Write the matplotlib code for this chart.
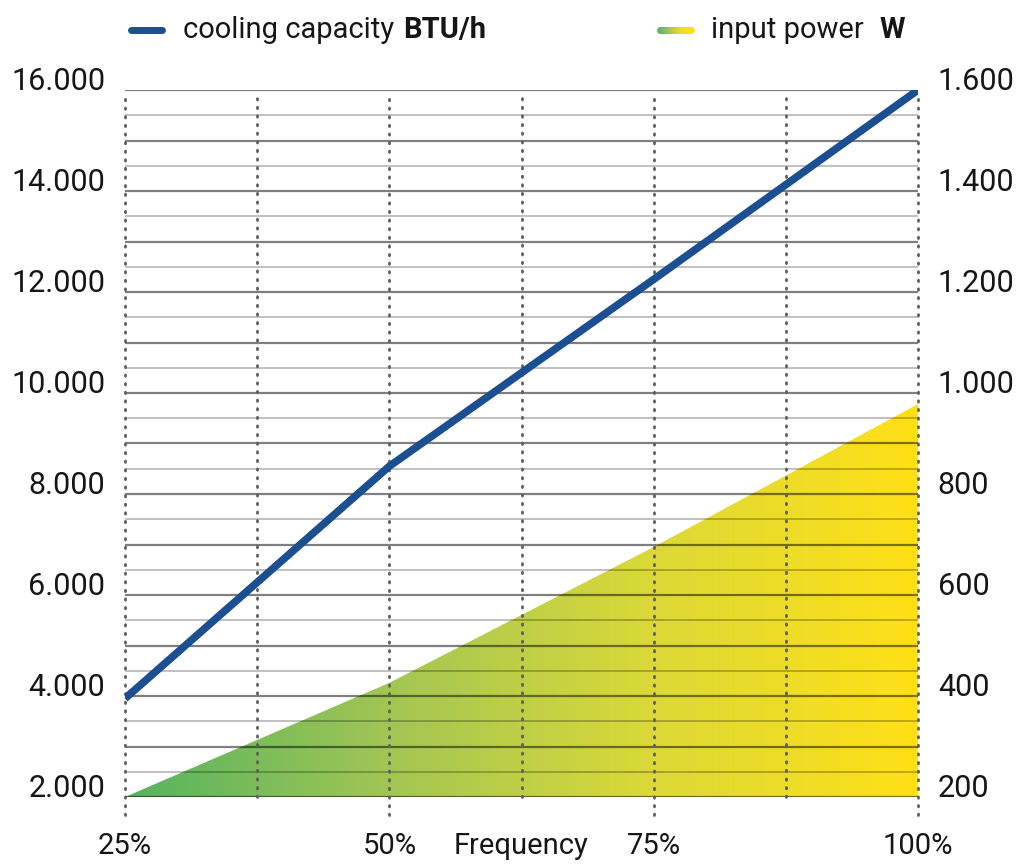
import numpy as np
import matplotlib
matplotlib.use("Agg")
import matplotlib.pyplot as plt
from matplotlib.colors import LinearSegmentedColormap
from matplotlib.lines import Line2D
from matplotlib.collections import LineCollection
import matplotlib.transforms as mtrans

plt.rcParams['font.family'] = ['Roboto', 'DejaVu Sans']

# data
freq = [25, 50, 75, 100]                 # % frequency
cooling = [3950, 8550, 12250, 16000]     # BTU/h
power = [200, 426, 695, 978]             # W

x_ticks = [25, 50, 62.5, 75, 100]
x_labels = ['25%', '50%', 'Frequency', '75%', '100%']
left_ticks = [2000, 4000, 6000, 8000, 10000, 12000, 14000, 16000]
left_labels = ['2.000', '4.000', '6.000', '8.000', '10.000', '12.000', '14.000', '16.000']
right_ticks = [200, 400, 600, 800, 1000, 1200, 1400, 1600]
right_labels = ['200', '400', '600', '800', '1.000', '1.200', '1.400', '1.600']

blue = '#1b4f91'
txt = '#161616'
cmap = LinearSegmentedColormap.from_list('pw', ['#55b35f', '#a2c654', '#dcd938', '#ffe016'])

fig = plt.figure(figsize=(10.24, 8.66), dpi=100)
ax2 = fig.add_axes([125/1024, 1-797/866, (918-125)/1024, (797-90)/866])
ax = ax2.twinx()
ax.set_zorder(2)
ax.patch.set_visible(False)
ax2.set_zorder(1)

ax.set_xlim(25, 100)
ax.set_ylim(2000, 16000)
for a in (ax, ax2):
    for s in a.spines.values():
        s.set_visible(False)
    a.set_yticks([])

# gradient area for input power
poly = ax2.fill_between(freq, 200, power, color='none', lw=0)
grad = np.linspace(0, 1, 256).reshape(1, -1)
im = ax2.imshow(grad, cmap=cmap, aspect='auto', extent=[25, 100, 200, 1600],
                origin='lower', zorder=1)
im.set_clip_path(poly.get_paths()[0], transform=ax2.transData)
ax2.set_xlim(25, 100)
ax2.set_ylim(200, 1600)

# horizontal grid lines
for v in np.arange(2000, 16001, 500):
    if v % 1000 == 0:
        ax.axhline(v, color='black', alpha=0.5, lw=1.6, zorder=1)
    else:
        ax.axhline(v, color='black', alpha=0.25, lw=1.4, zorder=1)

# vertical dotted lines
for xv in np.arange(25, 100.1, 12.5):
    y0 = 1640 if xv % 25 == 0 else 2000
    ax.plot([xv, xv], [y0, 15880], color='#5e5e5e', lw=2, ls=(0, (0.5, 2.6)),
            dash_capstyle='round', clip_on=False, zorder=2)

# cooling capacity line
ax.plot(freq, cooling, color=blue, lw=5.5, solid_capstyle='butt', zorder=3)

# tick labels
ax2.set_xticks(x_ticks)
ax2.set_xticklabels(x_labels, fontsize=21, color=txt)
ax2.tick_params(axis='x', length=0, pad=25)

tl = mtrans.blended_transform_factory(ax.transAxes, ax.transData)
for v, s in zip(left_ticks, left_labels):
    ax.text(-0.025, v, s, transform=tl, ha='right', va='baseline', fontsize=22, color=txt)
tr = mtrans.blended_transform_factory(ax2.transAxes, ax2.transData)
for v, s in zip(right_ticks, right_labels):
    ax2.text(1.025, v, s, transform=tr, ha='left', va='baseline', fontsize=22, color=txt)

# legend
ly = 1 - 30/866
fig.add_artist(Line2D([131/1024, 162/1024], [ly, ly], color=blue, lw=5,
                      solid_capstyle='round'))
t1 = fig.text(183/1024, ly, 'cooling capacity', fontsize=21, color=txt, va='center')
gx = np.linspace(660/1024, 691/1024, 30)
segs = [[(gx[i], ly), (gx[i+1], ly)] for i in range(len(gx)-1)]
lc = LineCollection(segs, colors=cmap(np.linspace(0, 1, len(segs))), lw=5,
                    capstyle='round', transform=fig.transFigure)
fig.add_artist(lc)
t2 = fig.text(711/1024, ly, 'input power', fontsize=21, color=txt, va='center')

r = fig.canvas.get_renderer()
e1 = t1.get_window_extent(r)
fig.text((e1.x1 + 9)/1024, ly, 'BTU/h', fontsize=21, color=txt, va='center', weight='bold')
e2 = t2.get_window_extent(r)
fig.text(max(e2.x1 + 14, 880)/1024, ly, 'W', fontsize=21, color=txt, va='center', weight='bold')

fig.savefig('out.png', dpi=100)
